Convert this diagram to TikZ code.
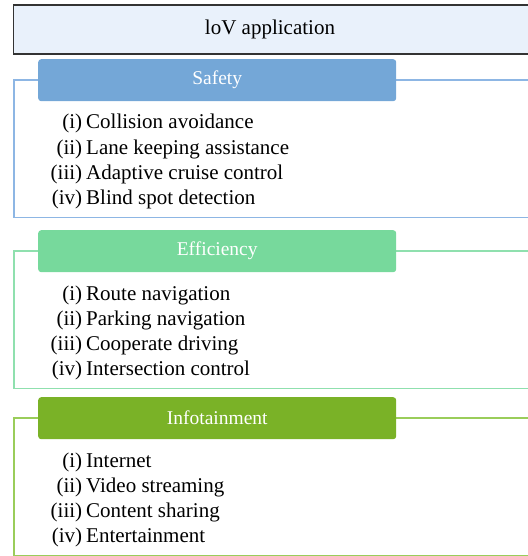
\documentclass[tikz,border=0pt]{standalone}
\usepackage{fontspec}
\setmainfont{Liberation Serif}

\definecolor{titrefond}{HTML}{E9F1FB}
\definecolor{titrebord}{HTML}{333333}
\definecolor{bleu}{HTML}{74A7D7}
\definecolor{bleutrait}{HTML}{8DB6E4}
\definecolor{vert}{HTML}{77D99C}
\definecolor{verttrait}{HTML}{8FE0AE}
\definecolor{olive}{HTML}{7AB227}
\definecolor{olivetrait}{HTML}{9ACD5A}

\tikzset{
	entete/.style={rounded corners=3pt, anchor=north west, inner sep=0pt,
		minimum width=358pt, minimum height=42pt, text=white,
		font=\fontsize{19.5}{19.5}\selectfont},
	item/.style={anchor=base west, inner sep=0pt,
		font=\fontsize{21}{25}\selectfont},
	cadre/.style={line width=1.2pt}
}

\begin{document}
\begin{tikzpicture}[x=1pt, y=-1pt]
	
	\useasboundingbox (0,0) rectangle (527,556);
	
	% Titre en haut (déborde à droite)
	\draw[titrebord, fill=titrefond, line width=1.4pt] (13.5,5) rectangle (540,54);
	\node[font=\fontsize{21}{21}\selectfont] (titre) at (270,29.5) {loV application};
	
	% Cadres et en-têtes des trois catégories
	\foreach \nom/\T/\coul/\texte in {
		securite/59/bleu/Safety,
		efficacite/230/vert/Efficiency,
		info/397/olive/Infotainment
	}{
		\draw[cadre, \coul trait] (540,\T+21) -- (14,\T+21) -- (14,\T+158.5) -- (540,\T+158.5);
		\node[entete, fill=\coul] (\nom) at (38,\T) {\texte};
	}
	
	% Safety
	\foreach \n/\texte [count=\k] in {
		i/Collision avoidance, ii/Lane keeping assistance,
		iii/Adaptive cruise control, iv/Blind spot detection
	}{
		\node[item] (s\k) at (86,129+25*\k-25) {\llap{(\n)\hspace{4pt}}\texte};
	}
	
	% Efficiency
	\foreach \n/\texte [count=\k] in {
		i/Route navigation, ii/Parking navigation,
		iii/Cooperate driving, iv/Intersection control
	}{
		\node[item] (e\k) at (86,300+25*\k-25) {\llap{(\n)\hspace{4pt}}\texte};
	}
	
	% Infotainment
	\foreach \n/\texte [count=\k] in {
		i/Internet, ii/Video streaming,
		iii/Content sharing, iv/Entertainment
	}{
		\node[item] (f\k) at (86,467+25*\k-25) {\llap{(\n)\hspace{4pt}}\texte};
	}
	
\end{tikzpicture}
\end{document}
